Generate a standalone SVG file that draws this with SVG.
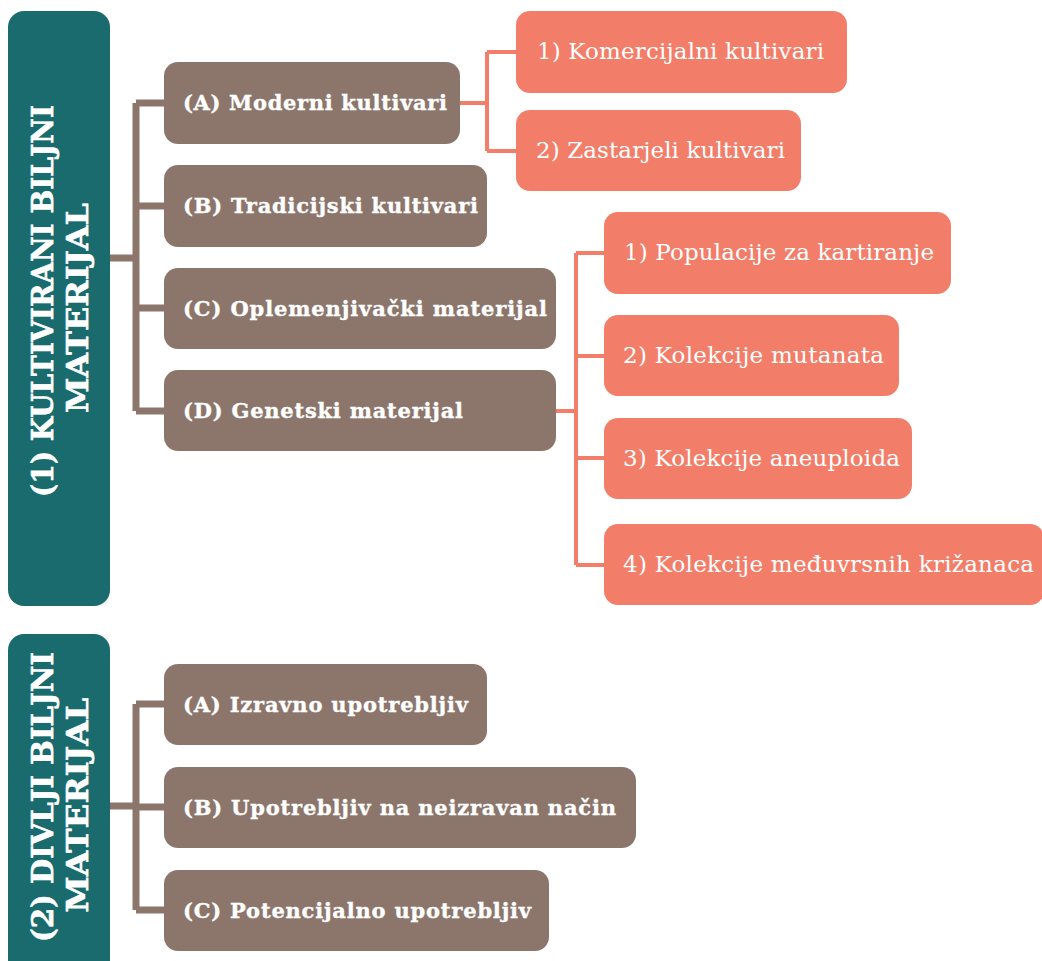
<svg xmlns="http://www.w3.org/2000/svg" width="1042" height="961" viewBox="0 0 1042 961">
<style>
.teal{fill:#1a6b6e}
.brown{fill:#8c766c}
.salmon{fill:#f27e69}
.tt{font-family:"DejaVu Serif","Liberation Serif",serif;font-weight:bold;font-size:29px;fill:#fff;stroke:#fff;stroke-width:0.6;text-anchor:middle}
.bt{font-family:"DejaVu Serif","Liberation Serif",serif;font-weight:bold;font-size:21px;fill:#fff;stroke:#fff;stroke-width:0.35}
.st{font-family:"DejaVu Serif","Liberation Serif",serif;font-size:23px;fill:#fff}
.cb{fill:none;stroke:#8c766c;stroke-width:7}
.cs{fill:none;stroke:#f27e69;stroke-width:4}
</style>
<rect width="1042" height="961" fill="#fff"/>
<g id="connectors">
<path class="cb" d="M110 258H136M136 103V411M136 103H164M136 206H164M136 308H164M136 411H164"/>
<path class="cb" d="M110 806H136M136 704V910M136 704H164M136 807H164M136 910H164"/>
<path class="cs" d="M460 103H487M487 52V151M487 52H516M487 151H516"/>
<path class="cs" d="M556 411H576M576 253V565M576 253H604M576 356H604M576 458H604M576 565H604"/>
</g>
<g id="n1"><rect class="teal" x="8" y="11" width="102" height="595" rx="16"/>
<text class="tt" transform="translate(53 301) rotate(-90)" textLength="392" lengthAdjust="spacingAndGlyphs">(1) KULTIVIRANI BILJNI</text>
<text class="tt" transform="translate(88 308) rotate(-90)" textLength="210" lengthAdjust="spacingAndGlyphs">MATERIJAL</text></g>
<g id="n2"><rect class="teal" x="8" y="634" width="102" height="345" rx="16"/>
<text class="tt" transform="translate(53 797) rotate(-90)" textLength="290" lengthAdjust="spacingAndGlyphs">(2) DIVLJI BILJNI</text>
<text class="tt" transform="translate(88 805) rotate(-90)" textLength="215" lengthAdjust="spacingAndGlyphs">MATERIJAL</text></g>
<g id="a1"><rect class="brown" x="164" y="62" width="296" height="82" rx="14"/><text class="bt" x="183" y="110" textLength="264">(A) Moderni kultivari</text></g>
<g id="b1"><rect class="brown" x="164" y="165" width="323" height="82" rx="14"/><text class="bt" x="183" y="213" textLength="295">(B) Tradicijski kultivari</text></g>
<g id="c1"><rect class="brown" x="164" y="268" width="392" height="81" rx="14"/><text class="bt" x="183" y="316" textLength="364">(C) Oplemenjivački materijal</text></g>
<g id="d1"><rect class="brown" x="164" y="370" width="392" height="81" rx="14"/><text class="bt" x="183" y="418" textLength="280">(D) Genetski materijal</text></g>
<g id="s1"><rect class="salmon" x="516" y="11" width="331" height="82" rx="14"/><text class="st" x="537" y="59" textLength="287">1) Komercijalni kultivari</text></g>
<g id="s2"><rect class="salmon" x="516" y="110" width="285" height="81" rx="14"/><text class="st" x="536" y="158" textLength="249">2) Zastarjeli kultivari</text></g>
<g id="g1"><rect class="salmon" x="604" y="212" width="347" height="82" rx="14"/><text class="st" x="624" y="260" textLength="310">1) Populacije za kartiranje</text></g>
<g id="g2"><rect class="salmon" x="604" y="315" width="295" height="81" rx="14"/><text class="st" x="623" y="363" textLength="261">2) Kolekcije mutanata</text></g>
<g id="g3"><rect class="salmon" x="604" y="418" width="308" height="81" rx="14"/><text class="st" x="623" y="466" textLength="277">3) Kolekcije aneuploida</text></g>
<g id="g4"><rect class="salmon" x="604" y="524" width="440" height="81" rx="14"/><text class="st" x="623" y="572" textLength="411">4) Kolekcije međuvrsnih križanaca</text></g>
<g id="a2"><rect class="brown" x="164" y="664" width="323" height="81" rx="14"/><text class="bt" x="183" y="712" textLength="285">(A) Izravno upotrebljiv</text></g>
<g id="b2"><rect class="brown" x="164" y="767" width="472" height="81" rx="14"/><text class="bt" x="183" y="815" textLength="433">(B) Upotrebljiv na neizravan način</text></g>
<g id="c2"><rect class="brown" x="164" y="870" width="385" height="81" rx="14"/><text class="bt" x="183" y="918" textLength="348">(C) Potencijalno upotrebljiv</text></g>
</svg>
